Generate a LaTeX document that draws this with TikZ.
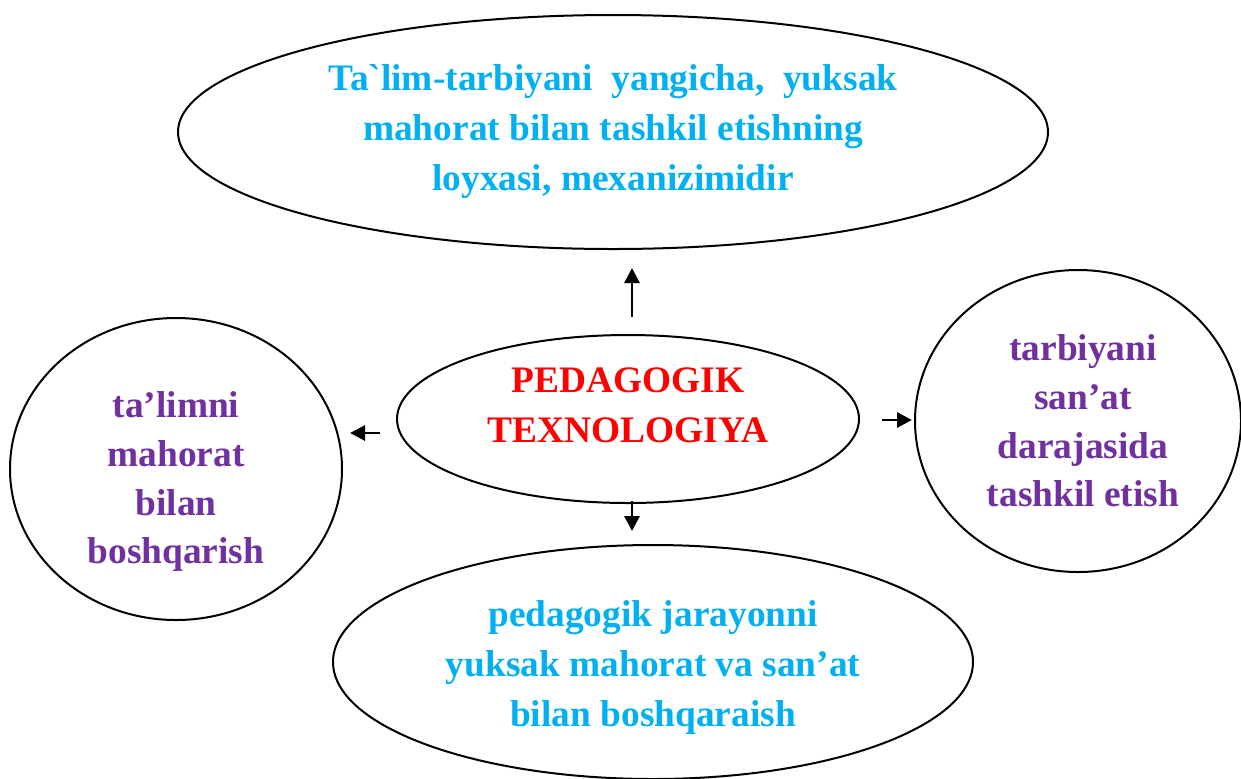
\documentclass[tikz,border=0pt]{standalone}
\usepackage{fontspec}
\setmainfont{Liberation Serif}
\usetikzlibrary{shapes.geometric,arrows.meta}
\definecolor{skyblue}{HTML}{00B0F0}
\definecolor{violet}{HTML}{7030A0}
\newcommand{\liftlines}[2]{\raisebox{#1}[\height][\depth]{\begin{tabular}{@{}c@{}}#2\end{tabular}}}
\tikzset{
  oval/.style={draw,line width=1pt,ellipse,inner sep=0pt,align=center,
    font=\fontsize{18.7}{25}\selectfont\bfseries},
  arr/.style={-{Triangle[length=7.5pt,width=7.5pt]},line width=1.4pt}
}
\begin{document}
\begin{tikzpicture}[x=0.5pt,y=-0.5pt]
\useasboundingbox (0,0) rectangle (1241,778);

\node[oval,minimum width=435pt,minimum height=117pt,text=skyblue] (top) at (613,132)
  {Ta\textasciigrave lim-tarbiyani\ \ yangicha,\ \ yuksak\\ mahorat bilan tashkil etishning\\ loyxasi, mexanizimidir};

\node[oval,minimum width=231pt,minimum height=84pt,text=red] (tech) at (628,419)
  {\liftlines{6pt}{PEDAGOGIK\\ TEXNOLOGIYA}};

\node[oval,minimum width=166pt,minimum height=151pt,text=violet,
  font=\fontsize{18.7}{24.3}\selectfont\bfseries] (lc) at (176,469)
  {\liftlines{-6pt}{ta’limni\\ mahorat\\ bilan\\ boshqarish}};

\node[oval,minimum width=163pt,minimum height=151pt,text=violet,
  font=\fontsize{18.7}{24.3}\selectfont\bfseries] (rc) at (1078,421)
  {\hspace*{5pt}tarbiyani\\ \hspace*{5pt}san’at\\ \hspace*{5pt}darajasida\\ \hspace*{5pt}tashkil etish};

\node[oval,minimum width=320pt,minimum height=117pt,text=skyblue] (bot) at (653,662)
  {\liftlines{-2pt}{pedagogik jarayonni\\ yuksak mahorat va san’at\\ bilan boshqaraish}};

\draw[arr,shorten <=8.5pt,shorten >=9pt] (tech.north -| 632,0) -- (top.south -| 632,0);
\draw[arr,shorten <=8pt,shorten >=3.5pt] (tech.west |- 0,433) -- (lc.east |- 0,433);
\draw[arr,shorten <=11pt,shorten >=1pt] (tech.east |- 0,420) -- (rc.west |- 0,420);
\draw[arr,shorten <=-1.5pt,shorten >=6.5pt] (tech.south -| 632,0) -- (bot.north -| 632,0);
\end{tikzpicture}
\end{document}
